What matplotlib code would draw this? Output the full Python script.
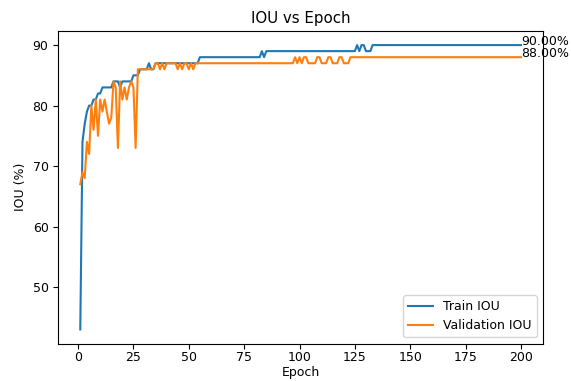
import matplotlib.pyplot as plt

# IOU per epoch
train_iou = ([43, 74, 77, 79, 80, 80, 81, 81, 82, 82,
              83, 83, 83, 83, 83, 84, 84, 84, 83, 84,
              84, 84, 84, 84, 85, 85, 85, 86, 86, 86,
              86, 87, 86, 86, 87]
             + [87] * 19          # epochs 36-54
             + [88] * 28          # epochs 55-82
             + [89, 88, 89]       # epochs 83-85
             + [89] * 40          # epochs 86-125
             + [90, 89, 90, 90, 89, 89, 89]   # epochs 126-132
             + [90] * 68)         # epochs 133-200

val_iou = ([67, 69, 68, 74, 72, 80, 76, 81, 75, 81,
            79, 81, 79, 77, 78, 84, 83, 73, 84, 81,
            83, 81, 83, 84, 83, 73, 86, 86, 86, 86,
            86, 86, 86, 86, 87, 87, 86, 87, 86, 87,
            87, 87, 87, 87, 86, 87, 86, 87, 87, 86,
            87, 86]
           + [87] * 45            # epochs 53-97
           + [88, 87, 88, 87, 88, 88, 87, 87, 87, 87,
              88, 88, 87, 87, 87, 88, 88, 87, 87, 87,
              88, 88, 87, 87, 87]  # epochs 98-122
           + [88] * 78)           # epochs 123-200

epochs = list(range(1, len(train_iou) + 1))

plt.rcParams['font.size'] = 9

fig = plt.figure(figsize=(5.71, 3.81), dpi=100)
ax = fig.add_axes([0.102, 0.098, 0.849, 0.821])
ax.plot(epochs, train_iou, label='Train IOU')
ax.plot(epochs, val_iou, label='Validation IOU')

ax.text(epochs[-1], train_iou[-1], '%.2f%%' % train_iou[-1])
ax.text(epochs[-1], val_iou[-1], '%.2f%%' % val_iou[-1])

ax.set_title('IOU vs Epoch')
ax.tick_params(axis='x', pad=2)
ax.set_xlabel('Epoch', labelpad=1)
ax.set_ylabel('IOU (%)')
ax.legend(loc='lower right')

fig.savefig('out.png')
